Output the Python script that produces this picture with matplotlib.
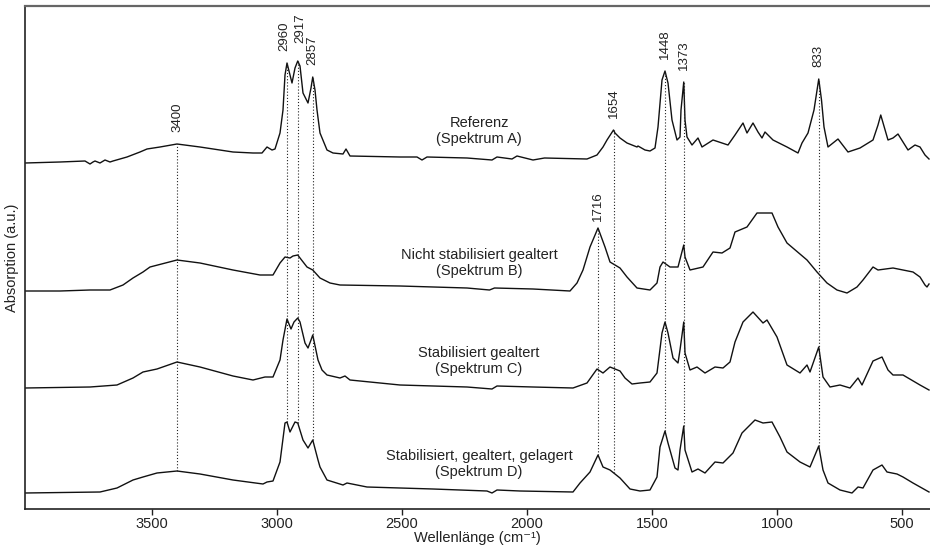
import numpy as np
import matplotlib.pyplot as plt

plt.rcParams['font.family'] = ['Liberation Sans', 'DejaVu Sans']

# ── Spectra (wavenumber in cm-1, stacked absorbance in a.u.) ─────────────
wn_a = [4008, 3868, 3768, 3748, 3736, 3728, 3708, 3688, 3668, 3656, 3600, 3548,
        3520, 3468, 3400, 3308, 3176, 3096, 3060, 3040, 3020, 3008, 2988, 2976,
        2968, 2960, 2948, 2940, 2928, 2917, 2908, 2896, 2876, 2864, 2857, 2848,
        2840, 2828, 2800, 2776, 2736, 2724, 2708, 2508, 2440, 2420, 2400, 2240,
        2140, 2120, 2060, 2040, 1976, 1930, 1760, 1720,
        1696, 1680, 1654, 1648, 1628, 1600, 1560, 1556, 1528, 1508, 1488, 1476,
        1460, 1448, 1436, 1420, 1400, 1388, 1384, 1373, 1368, 1360, 1340, 1316,
        1300, 1256, 1196, 1168, 1136, 1120, 1096, 1076, 1060, 1048, 1016, 960,
        916, 900, 876, 852, 833, 822, 812, 796, 756, 716, 668, 616, 596, 585,
        556, 536, 516, 496, 476, 448, 428, 408, 392]
abs_a = [346, 347, 348, 345, 347, 348, 346, 349, 347, 348, 352, 357,
         360, 362, 365, 362, 357, 356, 356, 362, 359, 360, 376, 399,
         434, 446, 434, 426, 441, 448, 443, 416, 406, 421, 432, 419,
         399, 376, 359, 356, 355, 360, 353, 352, 352, 349, 352, 351,
         349, 352, 350, 353, 349, 351, 350, 354,
         362, 369, 379, 376, 371, 366, 362, 363, 359, 358, 361, 382,
         429, 438, 426, 389, 369, 372, 399, 427, 389, 372, 364, 371,
         362, 369, 364, 374, 386, 376, 386, 377, 371, 377, 369, 362,
         356, 366, 376, 399, 430, 409, 382, 362, 370, 357, 361, 369, 384, 394,
         369, 371, 375, 367, 359, 364, 362, 354, 350]

wn_b = [4008, 3868, 3748, 3668, 3616, 3576, 3536, 3508, 3400, 3308, 3176, 3068,
        3016, 2988, 2968, 2948, 2936, 2917, 2908, 2880, 2857, 2828, 2788, 2748,
        2508, 2240, 2150, 2130, 1976, 1828, 1800, 1776, 1748, 1716, 1688, 1668,
        1628, 1600, 1560, 1508, 1480, 1468, 1456, 1428, 1396, 1373, 1368, 1348,
        1296, 1256, 1220, 1188, 1168, 1120, 1080, 1020, 996, 960, 880, 840,
        800, 760, 720, 680, 656, 616, 596, 536, 496, 456, 428, 408, 400, 392]
abs_b = [218, 218, 219, 219, 224, 231, 237, 242, 249, 246, 239, 234,
         234, 246, 252, 251, 253, 254, 251, 242, 239, 231, 226, 224,
         223, 221, 219, 221, 220, 218, 226, 239, 262, 281, 262, 247,
         241, 232, 221, 219, 226, 242, 247, 242, 242, 264, 252, 239,
         242, 257, 256, 261, 277, 282, 296, 296, 282, 266, 249, 237,
         226, 219, 216, 222, 229, 242, 239, 241, 239, 237, 232, 224, 222, 225]

wn_c = [4008, 3748, 3640, 3576, 3536, 3480, 3400, 3308, 3176, 3096, 3048, 3016,
        2988, 2976, 2960, 2944, 2932, 2917, 2908, 2888, 2876, 2864, 2857, 2836,
        2820, 2800, 2748, 2728, 2708, 2588, 2508, 2240, 2140, 2120, 1976, 1816,
        1760, 1720, 1696, 1668, 1628, 1608, 1580, 1548, 1508, 1480, 1460, 1448,
        1436, 1416, 1396, 1388, 1373, 1368, 1348, 1320, 1288, 1248, 1216, 1188,
        1168, 1136, 1096, 1056, 1040, 1000, 960, 908, 880, 868, 833, 816,
        788, 748, 708, 676, 660, 616, 580, 556, 536, 496, 428, 392]
abs_c = [121, 122, 124, 131, 137, 140, 147, 142, 133, 129, 132, 132,
         149, 169, 190, 180, 187, 191, 187, 166, 161, 169, 174, 149,
         139, 134, 131, 133, 129, 126, 124, 122, 120, 123, 122, 121,
         126, 140, 136, 142, 138, 131, 125, 126, 127, 136, 176, 187,
         176, 151, 146, 159, 187, 156, 139, 142, 136, 142, 141, 147,
         167, 187, 197, 186, 189, 172, 144, 136, 144, 137, 162, 132,
         122, 124, 121, 131, 124, 148, 152, 139, 134, 134, 124, 119]

wn_d = [4008, 3708, 3640, 3576, 3536, 3480, 3400, 3308, 3176, 3056, 3040, 3016,
        2988, 2968, 2960, 2948, 2928, 2917, 2896, 2876, 2857, 2836, 2828, 2800,
        2736, 2720, 2640, 2376, 2160, 2140, 2120, 2028, 1816, 1788, 1748, 1716,
        1696, 1668, 1628, 1588, 1548, 1508, 1480, 1468, 1448, 1436, 1408, 1396,
        1388, 1373, 1368, 1340, 1316, 1288, 1248, 1216, 1176, 1140, 1088, 1056,
        1020, 988, 960, 908, 868, 833, 816, 796, 748, 700, 676, 656,
        616, 580, 560, 520, 496, 456, 392]
abs_d = [16, 17, 21, 29, 32, 36, 38, 35, 29, 25, 27, 28,
         47, 86, 87, 77, 87, 86, 69, 61, 69, 49, 42, 29,
         24, 26, 22, 20, 18, 16, 19, 18, 17, 26, 37, 54,
         42, 39, 31, 20, 18, 19, 32, 62, 78, 66, 41, 39,
         59, 83, 59, 37, 40, 36, 47, 46, 56, 76, 89, 86,
         87, 72, 57, 47, 42, 63, 39, 26, 19, 16, 22, 21,
         39, 44, 37, 35, 32, 26, 17]

spectra = [(wn_a, abs_a), (wn_b, abs_b), (wn_c, abs_c), (wn_d, abs_d)]
names = ['Referenz\n(Spektrum A)',
         'Nicht stabilisiert gealtert\n(Spektrum B)',
         'Stabilisiert gealtert\n(Spektrum C)',
         'Stabilisiert, gealtert, gelagert\n(Spektrum D)']
name_pos = [(2192, 378), (2192, 246), (2192, 148), (2192, 45)]

# marked bands and the spectrum each dotted line starts from (0 = A, 1 = B)
peaks = [3400, 2960, 2917, 2857, 1716, 1654, 1448, 1373, 833]
peak_from = [0, 0, 0, 0, 1, 0, 0, 0, 0]

# ── Plot ─────────────────────────────────────────────────────────────────
fig = plt.figure(figsize=(9.3, 5.5), dpi=100)
ax = fig.add_axes([25 / 930, 41 / 550, 905 / 930, 503 / 550])

for wn, ab in spectra:
    ax.plot(wn, ab, color='#111111', lw=1.0)

for (x, y), name in zip(name_pos, names):
    ax.text(x, y, name, ha='center', va='center', fontsize=10.5,
            linespacing=1.25, color='#222222')

wn_bottom, ab_bottom = spectra[3]
for p, src in zip(peaks, peak_from):
    wn_top, ab_top = spectra[src]
    y_top = np.interp(p, wn_top[::-1], ab_top[::-1])
    y_bot = np.interp(p, wn_bottom[::-1], ab_bottom[::-1])
    ax.plot([p, p], [y_bot, y_top], color='#222222', lw=0.8,
            linestyle=(0, (1, 1.8)))
    dx, dy = 0, 9
    if p == 2960:
        dx = -2
    elif p == 2917:
        dx, dy = 1.5, 13
    elif p == 1716:
        dy = 5
    ax.annotate(str(p), (p, y_top), xytext=(dx, dy), textcoords='offset points',
                rotation=90, ha='center', va='bottom', fontsize=9.5,
                color='#222222')

ax.set_xlim(4008, 388)
ax.set_ylim(0, 503)
ax.set_xticks([3500, 3000, 2500, 2000, 1500, 1000, 500])
ax.set_yticks([])
ax.tick_params(axis='x', direction='out', length=4, width=1, pad=2,
               labelsize=10.5, colors='#222222')
ax.set_xlabel('Wellenlänge (cm⁻¹)', fontsize=10.5, labelpad=0,
              color='#222222')
ax.set_ylabel('Absorption (a.u.)', fontsize=10.5, labelpad=4, color='#222222')

ax.spines['right'].set_visible(False)
ax.spines['top'].set_color('#666666')
ax.spines['top'].set_linewidth(1.6)
for s in ['left', 'bottom']:
    ax.spines[s].set_color('#222222')
    ax.spines[s].set_linewidth(1.2)

fig.savefig('out.png', dpi=100)
